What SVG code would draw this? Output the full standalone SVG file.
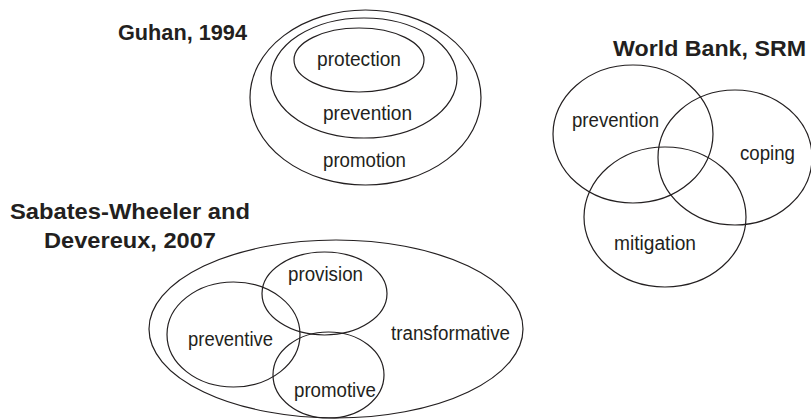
<svg xmlns="http://www.w3.org/2000/svg" width="811" height="419" viewBox="0 0 811 419">
<style>
.e{fill:none;stroke:#231f20;stroke-width:1.2}
.t{font-family:"Liberation Sans",Arial,sans-serif;font-size:19.5px;fill:#231f20}
.h{font-family:"Liberation Sans",Arial,sans-serif;font-size:22px;font-weight:bold;fill:#231f20}
</style>
<rect width="811" height="419" fill="#fff"/>
<g id="guhan">
<text class="h" x="118" y="40" textLength="129" lengthAdjust="spacingAndGlyphs">Guhan, 1994</text>
<g id="promotion"><ellipse class="e" cx="365.5" cy="97.5" rx="115.5" ry="87.5"/><text class="t" x="323" y="167" textLength="83" lengthAdjust="spacingAndGlyphs">promotion</text></g>
<g id="prevention-g"><ellipse class="e" cx="364" cy="78" rx="93" ry="60"/><text class="t" x="323" y="120" textLength="89" lengthAdjust="spacingAndGlyphs">prevention</text></g>
<g id="protection"><ellipse class="e" cx="359" cy="60" rx="65" ry="32"/><text class="t" x="317" y="66" textLength="84" lengthAdjust="spacingAndGlyphs">protection</text></g>
</g>
<g id="worldbank">
<text class="h" x="613" y="56" textLength="193" lengthAdjust="spacingAndGlyphs">World Bank, SRM</text>
<g id="prevention-w"><ellipse class="e" cx="633" cy="134" rx="80" ry="69"/><text class="t" x="572" y="127" textLength="87" lengthAdjust="spacingAndGlyphs">prevention</text></g>
<g id="coping"><ellipse class="e" cx="735" cy="157.5" rx="77" ry="67.5"/><text class="t" x="740" y="160" textLength="55" lengthAdjust="spacingAndGlyphs">coping</text></g>
<g id="mitigation"><ellipse class="e" cx="665" cy="217" rx="81" ry="70"/><text class="t" x="614" y="250" textLength="82" lengthAdjust="spacingAndGlyphs">mitigation</text></g>
</g>
<g id="sabates">
<text class="h" x="10" y="219" textLength="240" lengthAdjust="spacingAndGlyphs">Sabates-Wheeler and</text>
<text class="h" x="44" y="248" textLength="172" lengthAdjust="spacingAndGlyphs">Devereux, 2007</text>
<g id="transformative"><ellipse class="e" cx="336" cy="329" rx="187" ry="89"/><text class="t" x="391" y="340" textLength="119" lengthAdjust="spacingAndGlyphs">transformative</text></g>
<g id="provision"><ellipse class="e" cx="324.5" cy="293.5" rx="62.5" ry="41.5"/><text class="t" x="288" y="281" textLength="75" lengthAdjust="spacingAndGlyphs">provision</text></g>
<g id="preventive"><ellipse class="e" cx="233.5" cy="334.5" rx="66.5" ry="52.5"/><text class="t" x="188" y="346" textLength="85" lengthAdjust="spacingAndGlyphs">preventive</text></g>
<g id="promotive"><ellipse class="e" cx="328.5" cy="375" rx="55.5" ry="43"/><text class="t" x="294" y="397" textLength="82" lengthAdjust="spacingAndGlyphs">promotive</text></g>
</g>
<g id="connectors"/>
</svg>
